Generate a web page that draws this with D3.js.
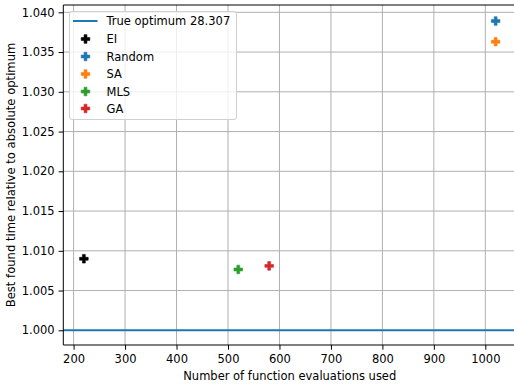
<!DOCTYPE html>
<html><head><meta charset="utf-8">
<script src="https://cdn.jsdelivr.net/npm/d3@7"></script>
<style>body{margin:0;background:#fff}svg{display:block}text{font-family:"DejaVu Sans",sans-serif}</style>
</head><body><svg id="c" width="514" height="389"></svg>
<script>
const methods = ["EI","Random","SA","MLS","GA"];
const evals = [220, 1020, 1020, 520, 580];
const relTime = [1.0090, 1.0389, 1.0363, 1.00765, 1.0081];
const colors = ["#000000","#1f77b4","#ff7f0e","#2ca02c","#d62728"];
const trueOpt = 1.0;
const trueOptLabel = "True optimum 28.307";
const xTicks = [200,300,400,500,600,700,800,900,1000];
const yTicks = [1.000,1.005,1.010,1.015,1.020,1.025,1.030,1.035,1.040];

const svg = d3.select("#c");
const L=63.3, R=516.2, T=5, B=345;
const x = d3.scaleLinear().domain([180,1060]).range([L,R]);
const y = d3.scaleLinear().domain([0.99815,1.04092]).range([B,T]);
const fs = 11.5;

const g = svg.append("g");
// grid
g.selectAll(".gx").data(xTicks).enter().append("line")
 .attr("x1",d=>x(d)).attr("x2",d=>x(d)).attr("y1",T).attr("y2",B)
 .attr("stroke","#b0b0b0").attr("stroke-width",1);
g.selectAll(".gy").data(yTicks).enter().append("line")
 .attr("y1",d=>y(d)).attr("y2",d=>y(d)).attr("x1",L).attr("x2",R)
 .attr("stroke","#b0b0b0").attr("stroke-width",1);

// true optimum line
g.append("line").attr("x1",L).attr("x2",R).attr("y1",y(trueOpt)).attr("y2",y(trueOpt))
 .attr("stroke","#1f77b4").attr("stroke-width",2);

// plus-filled marker path
function plusPath(cx,cy,s){
  const a=s/2, b=s/6;
  return `M${cx-b},${cy-a}H${cx+b}V${cy-b}H${cx+a}V${cy+b}H${cx+b}V${cy+a}H${cx-b}V${cy+b}H${cx-a}V${cy-b}H${cx-b}Z`;
}
const ms = 8.6;
methods.forEach((m,i)=>{
  g.append("path").attr("d",plusPath(x(evals[i]),y(relTime[i]),ms)).attr("fill",colors[i])
   .attr("stroke",colors[i]).attr("stroke-width",0.6).attr("stroke-linejoin","round");
});

// axes
const xa = svg.append("g").attr("transform",`translate(0,${B})`)
 .call(d3.axisBottom(x).tickValues(xTicks).tickFormat(d3.format("d")).tickSize(4.7).tickPadding(5));
const ya = svg.append("g").attr("transform",`translate(${L},0)`)
 .call(d3.axisLeft(y).tickValues(yTicks).tickFormat(d3.format(".3f")).tickSize(4.7).tickPadding(4));
[xa,ya].forEach(a=>{
  a.selectAll("text").attr("font-size",fs).attr("fill","#000").attr("font-family","DejaVu Sans");
  a.selectAll("line").attr("stroke","#000").attr("stroke-width",1);
  a.select(".domain").remove();
});
// spines
svg.append("line").attr("x1",L).attr("x2",L).attr("y1",T).attr("y2",B).attr("stroke","#000").attr("stroke-width",1);
svg.append("line").attr("x1",L).attr("x2",R).attr("y1",B).attr("y2",B).attr("stroke","#000").attr("stroke-width",1);
svg.append("line").attr("x1",L).attr("x2",R).attr("y1",T).attr("y2",T).attr("stroke","#000").attr("stroke-width",1);

// labels
svg.append("text").attr("x",(L+R)/2).attr("y",379.5).attr("text-anchor","middle").attr("font-size",fs)
 .text("Number of function evaluations used");
svg.append("text").attr("transform",`translate(15,${(T+B)/2}) rotate(-90)`).attr("text-anchor","middle").attr("font-size",11.6)
 .text("Best found time relative to absolute optimum");

// legend
const lg = svg.append("g");
lg.append("rect").attr("x",69.5).attr("y",11.5).attr("width",167).attr("height",108).attr("rx",2.5)
 .attr("fill","#fff").attr("fill-opacity",0.8).attr("stroke","#d0d0d0").attr("stroke-width",1);
lg.append("line").attr("x1",73).attr("x2",97.5).attr("y1",21).attr("y2",21).attr("stroke","#1f77b4").attr("stroke-width",2);
lg.append("text").attr("x",106.5).attr("y",21).attr("dy","0.36em").attr("font-size",fs).text(trueOptLabel);
const ly = [39,56.5,74,91.5,108.5];
methods.forEach((m,i)=>{
  lg.append("path").attr("d",plusPath(85.5,ly[i],ms)).attr("fill",colors[i]).attr("stroke",colors[i])
   .attr("stroke-width",0.6).attr("stroke-linejoin","round");
  lg.append("text").attr("x",106.5).attr("y",ly[i]).attr("dy","0.36em").attr("font-size",fs).text(m);
});
</script></body></html>
